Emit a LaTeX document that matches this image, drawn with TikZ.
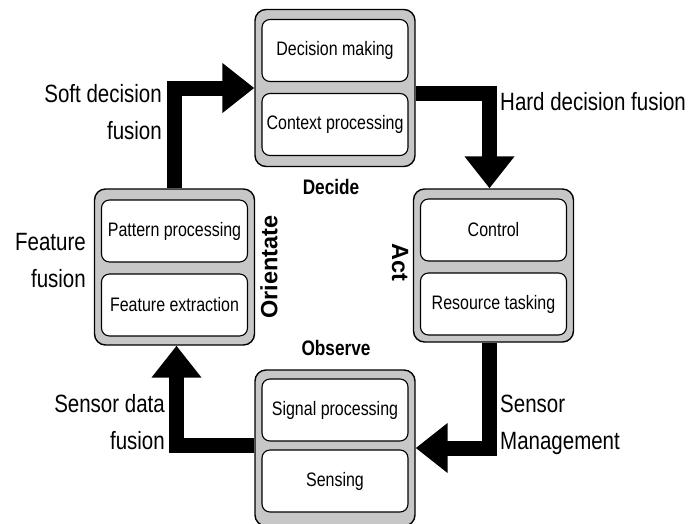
\documentclass[tikz,border=0pt]{standalone}
\usepackage{fontspec}
\setmainfont{Liberation Sans}
\newfontfamily\narrowfont{Liberation Sans}[FakeStretch=0.82]
\usetikzlibrary{arrows.meta,calc}
\begin{document}
\begin{tikzpicture}[x=1pt,y=-1pt,
  frame/.style={draw=black, line width=1.4pt, fill=black!22, rounded corners=11pt,
    minimum width=160pt, minimum height=157pt, inner sep=0pt},
  cell/.style={draw=black, line width=1.1pt, fill=white, rounded corners=8pt,
    minimum width=146pt, minimum height=62pt, inner sep=0pt,
    font=\narrowfont\fontsize{19.5}{23}\selectfont},
  stagelbl/.style={inner sep=0pt, font=\bfseries\fontsize{23.5}{28}\selectfont},
  stagelblnarrow/.style={inner sep=0pt, font=\narrowfont\bfseries\fontsize{21}{25}\selectfont},
  fusionlbl/.style={inner sep=0pt, font=\narrowfont\fontsize{25}{37}\selectfont},
  bigarrow/.style={line width=15pt, line join=miter,
    -{Triangle[length=32pt,width=48pt]}}]
\useasboundingbox (0,0) rectangle (694,523);

% Decide
\node[frame] (decide) at (335,88) {};
\node[cell] (dm) at (335,50.5) {Decision making};
\node[cell] (cp) at (335,124.5) {Context processing};
\node[stagelblnarrow] (decidelbl) at (331,187) {Decide};

% Orientate
\node[frame, minimum height=156pt] (orient) at (174.5,267) {};
\node[cell] (pp) at (174.5,231) {Pattern processing};
\node[cell] (fe) at (174.5,305) {Feature extraction};
\node[stagelbl, rotate=90] (orientlbl) at (269,267) {Orientate};

% Act
\node[frame, minimum height=153pt] (act) at (493.5,265.5) {};
\node[cell] (ctl) at (493.5,230) {Control};
\node[cell] (rt) at (493.5,304) {Resource tasking};
\node[stagelbl, rotate=-90] (actlbl) at (400,262) {Act};

% Observe
\node[frame, minimum height=156pt] (observe) at (335,448) {};
\node[cell] (sp) at (335,410) {Signal processing};
\node[cell] (sn) at (335,481) {Sensing};
\node[stagelblnarrow] (observelbl) at (336,348) {Observe};

% Connectors
\draw[bigarrow] (orient.north) |- (decide.west);
\draw[bigarrow] ([yshift=-5pt]decide.east) -| ([xshift=-4pt]act.north);
\draw[bigarrow] ([xshift=-4pt]act.south) |- (observe.east);
\draw[bigarrow] ([yshift=3pt]observe.west) -| ([xshift=2pt]orient.south);

% Labels
\node[fusionlbl, align=right, anchor=north east] (softlbl) at (162,84) {Soft decision\\fusion};
\node[fusionlbl, anchor=base west] (hardlbl) at (500,110) {Hard decision fusion};
\node[fusionlbl, align=right, anchor=north east] (featlbl) at (86,233) {Feature\\fusion};
\node[fusionlbl, align=right, anchor=north east] (sdflbl) at (165,394) {Sensor data\\fusion};
\node[fusionlbl, align=left, anchor=north west] (smlbl) at (500,395) {Sensor\\Management};
\end{tikzpicture}
\end{document}
